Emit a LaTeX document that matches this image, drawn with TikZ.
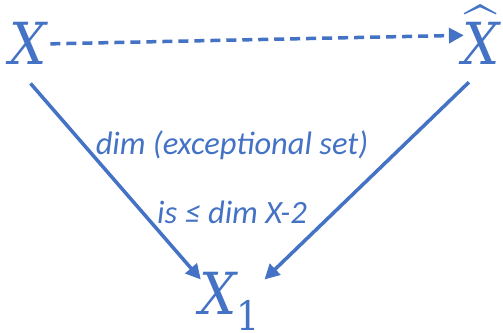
\documentclass[tikz,border=0pt]{standalone}
\usepackage{amsmath,amssymb}
\usepackage{fontspec}
\setmainfont{Carlito}
\newfontfamily\varfont{DejaVu Serif Condensed}
\usetikzlibrary{arrows.meta, positioning}
\definecolor{officeblue}{HTML}{4472C4}
\newcommand{\var}[1]{\text{\varfont\itshape #1}}

\begin{document}
\begin{tikzpicture}[x=0.02cm, y=0.02cm,
        space/.style={inner sep=2pt, text=officeblue, font=\fontsize{33}{36}\selectfont},
        lbl/.style={inner sep=0pt, text=officeblue, font=\fontsize{18.5}{22}\selectfont\itshape},
        map/.style={-{Triangle[length=8.5pt, width=8.5pt]}, line width=2pt, draw=officeblue},
    ]
        \useasboundingbox (0,0) rectangle (503,333);
        \node[space, anchor=base] (X) at (28,268) {$\var{X}$};
        \node[space, anchor=base] (Xhat) at (481,268) {$\widehat{\var{X}}$};
        \node[space, anchor=base, text height=18pt] (X1) at (230,18) {$\var{X}_{\text{\varfont 1}}$};
        \node[lbl] (dimset) at (232,188) {dim (exceptional set)};
        \node[lbl] (bound) at (232,121) {is ≤ dim X-2};

        % Birational map (dashed)
        \draw[map, dash pattern=on 5.7pt off 3.4pt, shorten >=-3pt] (X.east) -- (Xhat.west);

        % Morphisms down to X_1
        \draw[map, shorten <=11pt] ([xshift=7pt]X.south west) -- ([xshift=3pt]X1.north west);
        \draw[map, shorten <=11pt] ([xshift=1pt]Xhat.south) -- (X1.north east);
    \end{tikzpicture}
\end{document}
